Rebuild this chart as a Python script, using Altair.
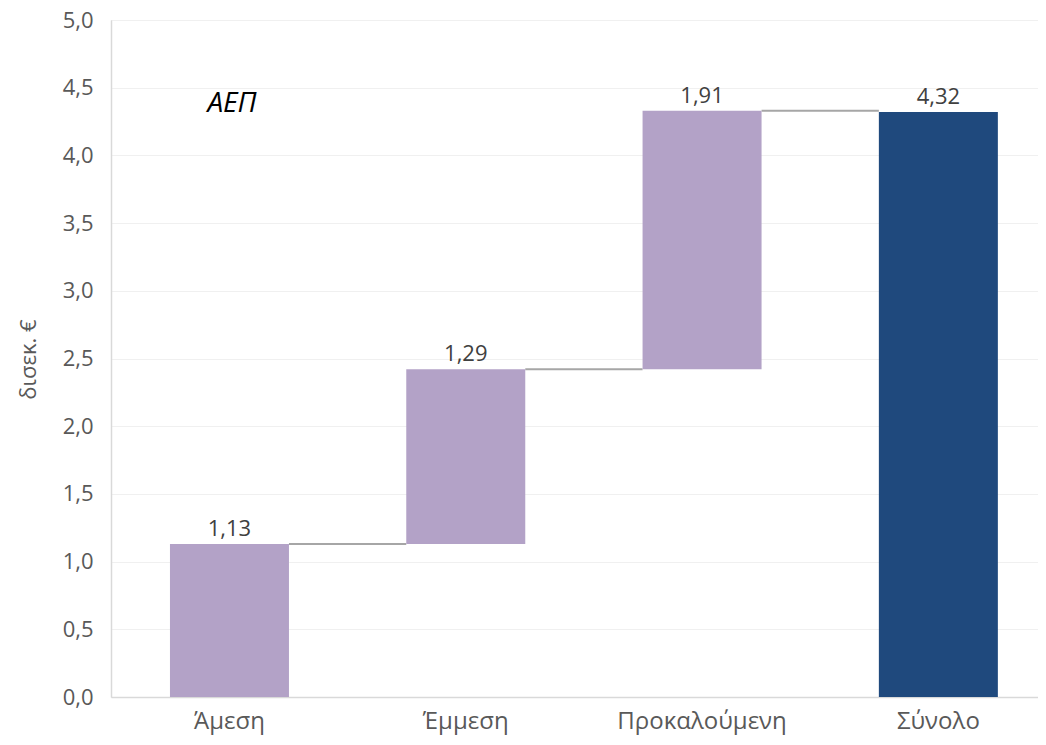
import altair as alt
import pandas as pd

categories = ["Άμεση", "Έμμεση", "Προκαλούμενη", "Σύνολο"]
values = [1.13, 1.29, 1.91, 4.32]
kinds = ["step", "step", "step", "total"]

# waterfall table built from the arrays
starts, ends = [], []
cum = 0.0
for v, k in zip(values, kinds):
    if k == "total":
        starts.append(0.0)
        ends.append(v)
    else:
        starts.append(cum)
        cum += v
        ends.append(cum)

bars_df = pd.DataFrame({
    "cat": categories, "value": values, "kind": kinds,
    "start": starts, "end": ends,
})
conn_df = pd.DataFrame({
    "from": categories[:-1], "to": categories[1:], "level": ends[:-1],
})

FONT = "Open Sans"
GREY_TXT = "#595959"

xscale = alt.Scale(domain=categories, paddingInner=0.4964, paddingOuter=0.2097, align=0.595)
yscale = alt.Scale(domain=[0, 5])

base = alt.Chart(bars_df)

bars = base.mark_bar().encode(
    x=alt.X("cat:N", scale=xscale, sort=categories, title=None,
            axis=alt.Axis(labelAngle=0, labelAlign="center", labelFont=FONT,
                          labelFontSize=24, labelColor=GREY_TXT, labelPadding=24,
                          ticks=False, domainColor="#D9D9D9", domainWidth=1.5,
                          grid=False)),
    y=alt.Y("start:Q", scale=yscale, title="δισεκ. €",
            axis=alt.Axis(values=[0, 0.5, 1, 1.5, 2, 2.5, 3, 3.5, 4, 4.5, 5],
                          labelExpr="replace(format(datum.value, '.1f'), '.', ',')",
                          labelFont=FONT, labelFontSize=22, labelColor=GREY_TXT,
                          labelPadding=18, ticks=False, domainColor="#D9D9D9",
                          domainWidth=1.5, gridColor="#F0F0F0", gridWidth=1,
                          titleFont=FONT, titleFontSize=22, titleFontWeight="normal",
                          titleColor=GREY_TXT, titleAngle=-90, titleX=-83, titleY=339,
                          titleBaseline="middle", titleAlign="center")),
    y2="end:Q",
    color=alt.Color("kind:N", scale=alt.Scale(domain=["step", "total"],
                                              range=["#B3A2C7", "#1F497D"]),
                    legend=None),
)

labels = base.transform_calculate(
    lab="replace(format(datum.value, '.2f'), '.', ',')"
).mark_text(baseline="bottom", dy=-3, font=FONT, fontSize=22, color="#404040").encode(
    x=alt.X("cat:N", scale=xscale, sort=categories),
    y=alt.Y("end:Q", scale=yscale),
    text="lab:N",
)

connectors = alt.Chart(conn_df).mark_rule(color="#A6A6A6", strokeWidth=2).encode(
    x=alt.X("from:N", scale=xscale, sort=categories, bandPosition=1),
    x2=alt.X2("to:N", bandPosition=0),
    y=alt.Y("level:Q", scale=yscale),
)

title_df = pd.DataFrame({"t": ["ΑΕΠ"]})
annot = alt.Chart(title_df).mark_text(
    font=FONT, fontSize=28, fontStyle="italic", color="#000000", align="center",
    baseline="middle"
).encode(x=alt.value(121), y=alt.value(84), text="t:N")

chart = alt.layer(connectors, bars, labels, annot).properties(
    width=927, height=677,
    autosize=alt.AutoSizeParams(type="none"),
    padding={"left": 103, "top": 12, "right": 0, "bottom": 40},
).configure_view(stroke=None).configure(background="white")

chart.save("out.html", embed_options={"renderer": "svg", "actions": False})
